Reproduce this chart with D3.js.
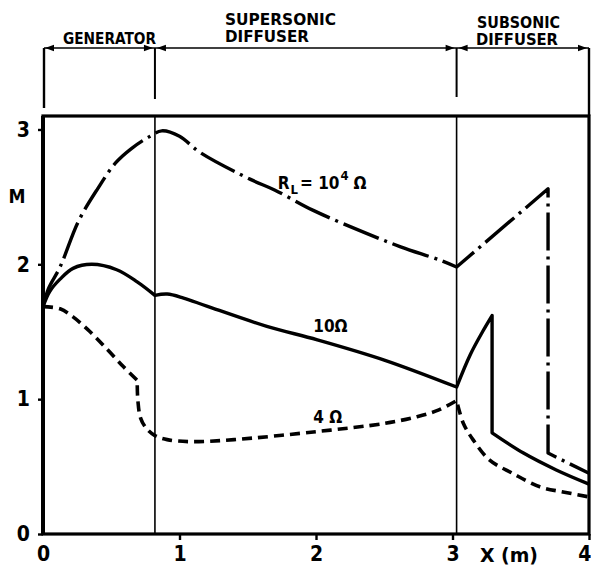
<!DOCTYPE html>
<html>
<head>
<meta charset="utf-8">
<script src="https://cdn.jsdelivr.net/npm/d3@7"></script>
<style>
  html, body { margin: 0; padding: 0; background: #fff; }
  text { font-family: "DejaVu Sans Condensed", "DejaVu Sans", sans-serif; font-weight: bold; fill: #000; }
</style>
</head>
<body>
<svg id="chart" width="591" height="570"></svg>
<script>
// Axis ticks
const xTicks = [0, 1, 2, 3, 4];
const yTicks = [0, 1, 2, 3];

// Duct sections along X (m)
const sectionBounds = [0, 0.82, 3.03, 4];
const sectionLabels = [["GENERATOR"], ["SUPERSONIC", "DIFFUSER"], ["SUBSONIC", "DIFFUSER"]];

// Mach number along the channel, R_L = 10^4 Ω
const highX = [0, 0.04, 0.125, 0.26, 0.40, 0.53, 0.65, 0.785, 0.87, 1.0, 1.15, 1.52, 1.70, 1.98, 2.37, 2.62, 2.91, 3.03, 3.70, 3.70, 4.0];
const highM = [1.686, 1.82, 1.98, 2.32, 2.56, 2.75, 2.86, 2.95, 2.99, 2.95, 2.83, 2.63, 2.55, 2.40, 2.23, 2.13, 2.03, 1.98, 2.56, 0.60, 0.45];
const highKinks = [17, 18, 19];

// R_L = 10 Ω
const midX = [0, 0.05, 0.125, 0.22, 0.357, 0.54, 0.69, 0.82, 0.91, 1.03, 1.20, 1.64, 2.01, 2.50, 3.03, 3.13, 3.22, 3.29, 3.29, 3.52, 3.76, 4.0];
const midM = [1.686, 1.80, 1.89, 1.97, 2.00, 1.96, 1.87, 1.77, 1.78, 1.75, 1.69, 1.54, 1.44, 1.29, 1.09, 1.33, 1.50, 1.62, 0.75, 0.60, 0.475, 0.37];
const midKinks = [7, 14, 17, 18];

// R_L = 4 Ω
const lowX = [0, 0.125, 0.22, 0.345, 0.47, 0.59, 0.69, 0.695, 0.715, 0.76, 0.82, 0.91, 1.08, 1.40, 2.01, 2.50, 2.74, 2.90, 3.03, 3.08, 3.15, 3.27, 3.44, 3.64, 3.82, 4.0];
const lowM = [1.686, 1.67, 1.61, 1.50, 1.37, 1.24, 1.14, 0.99, 0.86, 0.78, 0.73, 0.70, 0.685, 0.70, 0.76, 0.82, 0.87, 0.92, 0.99, 0.82, 0.70, 0.55, 0.45, 0.35, 0.31, 0.275];
const lowKinks = [6, 18];

const svg = d3.select("#chart");
const plotL = 43, plotR = 589, plotT = 116, plotB = 534;

const x = d3.scaleLinear().domain([0, 4]).range([plotL, plotR]);
const y = d3.scaleLinear().domain([0, 3.1]).range([plotB, plotT]);

// ---- section header with dimension arrows ----
const arrowY = 48;
const header = svg.append("g");
header.append("line")
  .attr("x1", x(0) + 1).attr("x2", x(4)).attr("y1", arrowY).attr("y2", arrowY)
  .attr("stroke", "#000").attr("stroke-width", 1.6);

const tickEnds = [108, 99, 97, plotT];
sectionBounds.forEach((b, i) => {
  header.append("line")
    .attr("x1", x(b) + (i === 0 ? 1 : 0)).attr("x2", x(b) + (i === 0 ? 1 : 0))
    .attr("y1", arrowY).attr("y2", tickEnds[i])
    .attr("stroke", "#000").attr("stroke-width", i === 0 || i === 3 ? 2.4 : 2);
});

function arrowHead(tipX, dir) {
  const len = 9, half = 3.2;
  header.append("path")
    .attr("d", `M${tipX},${arrowY} L${tipX - dir * len},${arrowY - half} L${tipX - dir * len},${arrowY + half} Z`)
    .attr("fill", "#000");
}
for (let i = 0; i < sectionBounds.length - 1; i++) {
  arrowHead(x(sectionBounds[i]) + 2, -1);
  arrowHead(x(sectionBounds[i + 1]) - 2, 1);
}

// section names
const labelSpec = [
  { xs: [63], bases: [44], widths: [93], size: 16 },
  { xs: [225, 225], bases: [25, 42], widths: [111, 84], size: 15 },
  { xs: [477, 476], bases: [28, 45], widths: [83, 82], size: 15 }
];
sectionLabels.forEach((lines, i) => {
  lines.forEach((t, j) => {
    header.append("text")
      .attr("x", labelSpec[i].xs[j]).attr("y", labelSpec[i].bases[j])
      .attr("font-size", labelSpec[i].size)
      .attr("textLength", labelSpec[i].widths[j])
      .attr("lengthAdjust", "spacingAndGlyphs")
      .text(t);
  });
});

// ---- frame and section dividers ----
const frame = svg.append("g");
sectionBounds.slice(1, 3).forEach(b => {
  frame.append("line")
    .attr("x1", x(b)).attr("x2", x(b)).attr("y1", plotT).attr("y2", plotB)
    .attr("stroke", "#000").attr("stroke-width", 1.6);
});
frame.append("rect")
  .attr("x", plotL).attr("y", plotT).attr("width", plotR - plotL).attr("height", plotB - plotT)
  .attr("fill", "none").attr("stroke", "#000").attr("stroke-width", 3.2);
frame.append("line")
  .attr("x1", plotL).attr("x2", plotL).attr("y1", plotT).attr("y2", plotB)
  .attr("stroke", "#000").attr("stroke-width", 4);

// ---- axes ----
const xAxis = d3.axisBottom(x).tickValues(xTicks).tickSize(6).tickPadding(6).tickFormat(d3.format("d"));
const gx = svg.append("g").attr("transform", `translate(0,${plotB})`).call(xAxis);
gx.select(".domain").remove();
gx.selectAll(".tick line").attr("stroke", "#000").attr("stroke-width", 2.4)
  .attr("display", d => d === 0 ? "none" : null);
gx.selectAll(".tick text")
  .attr("font-size", 21).attr("font-family", null).attr("fill", "#000")
  .attr("text-anchor", d => d === 4 ? "end" : "middle")
  .attr("x", d => d === 4 ? 2 : 0);

const yAxis = d3.axisLeft(y).tickValues(yTicks).tickSize(5).tickPadding(8).tickFormat(d3.format("d"));
const gy = svg.append("g").attr("transform", `translate(${plotL},0)`).call(yAxis);
gy.select(".domain").remove();
gy.selectAll(".tick line").attr("stroke", "#000").attr("stroke-width", 2.4);
gy.selectAll(".tick text")
  .attr("font-size", 21).attr("font-family", null).attr("fill", "#000");

svg.append("text").attr("x", 17).attr("y", 203).attr("text-anchor", "middle")
  .attr("font-size", 19).text("M");
svg.append("text").attr("x", 480).attr("y", 562)
  .attr("font-size", 20).attr("textLength", 58).attr("lengthAdjust", "spacingAndGlyphs")
  .text("X (m)");

// ---- curves: smooth pieces joined at sharp corners ----
function buildPath(xs, ms, kinks) {
  const pts = xs.map((v, i) => [x(v), y(ms[i])]);
  const cuts = [0, ...kinks, pts.length - 1];
  const smooth = d3.line().curve(d3.curveCatmullRom.alpha(0.5));
  let d = "";
  for (let i = 0; i < cuts.length - 1; i++) {
    const piece = pts.slice(cuts[i], cuts[i + 1] + 1);
    let seg = smooth(piece);
    if (i > 0) seg = "L" + seg.slice(1);
    d += seg;
  }
  return d;
}

const curves = svg.append("g").attr("fill", "none").attr("stroke", "#000")
  .attr("stroke-linejoin", "round");
curves.append("path").attr("d", buildPath(highX, highM, highKinks))
  .attr("stroke-width", 3.4).attr("stroke-dasharray", "38,6,3,6");
curves.append("path").attr("d", buildPath(midX, midM, midKinks))
  .attr("stroke-width", 3.4);
curves.append("path").attr("d", buildPath(lowX, lowM, lowKinks))
  .attr("stroke-width", 3.6).attr("stroke-dasharray", "10,6");

// ---- curve labels ----
const rl = svg.append("text").attr("x", x(1.72)).attr("y", y(2.56)).attr("font-size", 17);
rl.append("tspan").text("R");
rl.append("tspan").attr("font-size", 13).attr("dy", 5).attr("dx", 1).text("L");
rl.append("tspan").attr("dy", -5).attr("dx", 2).text("= 10");
rl.append("tspan").attr("font-size", 13).attr("dy", -9).attr("dx", 1).text("4");
rl.append("tspan").attr("dy", 9).attr("dx", 5).text("Ω");

svg.append("text").attr("x", x(1.98)).attr("y", y(1.50)).attr("font-size", 17).text("10Ω");
svg.append("text").attr("x", x(1.98)).attr("y", y(0.82)).attr("font-size", 17).text("4 Ω");
</script>
</body>
</html>
